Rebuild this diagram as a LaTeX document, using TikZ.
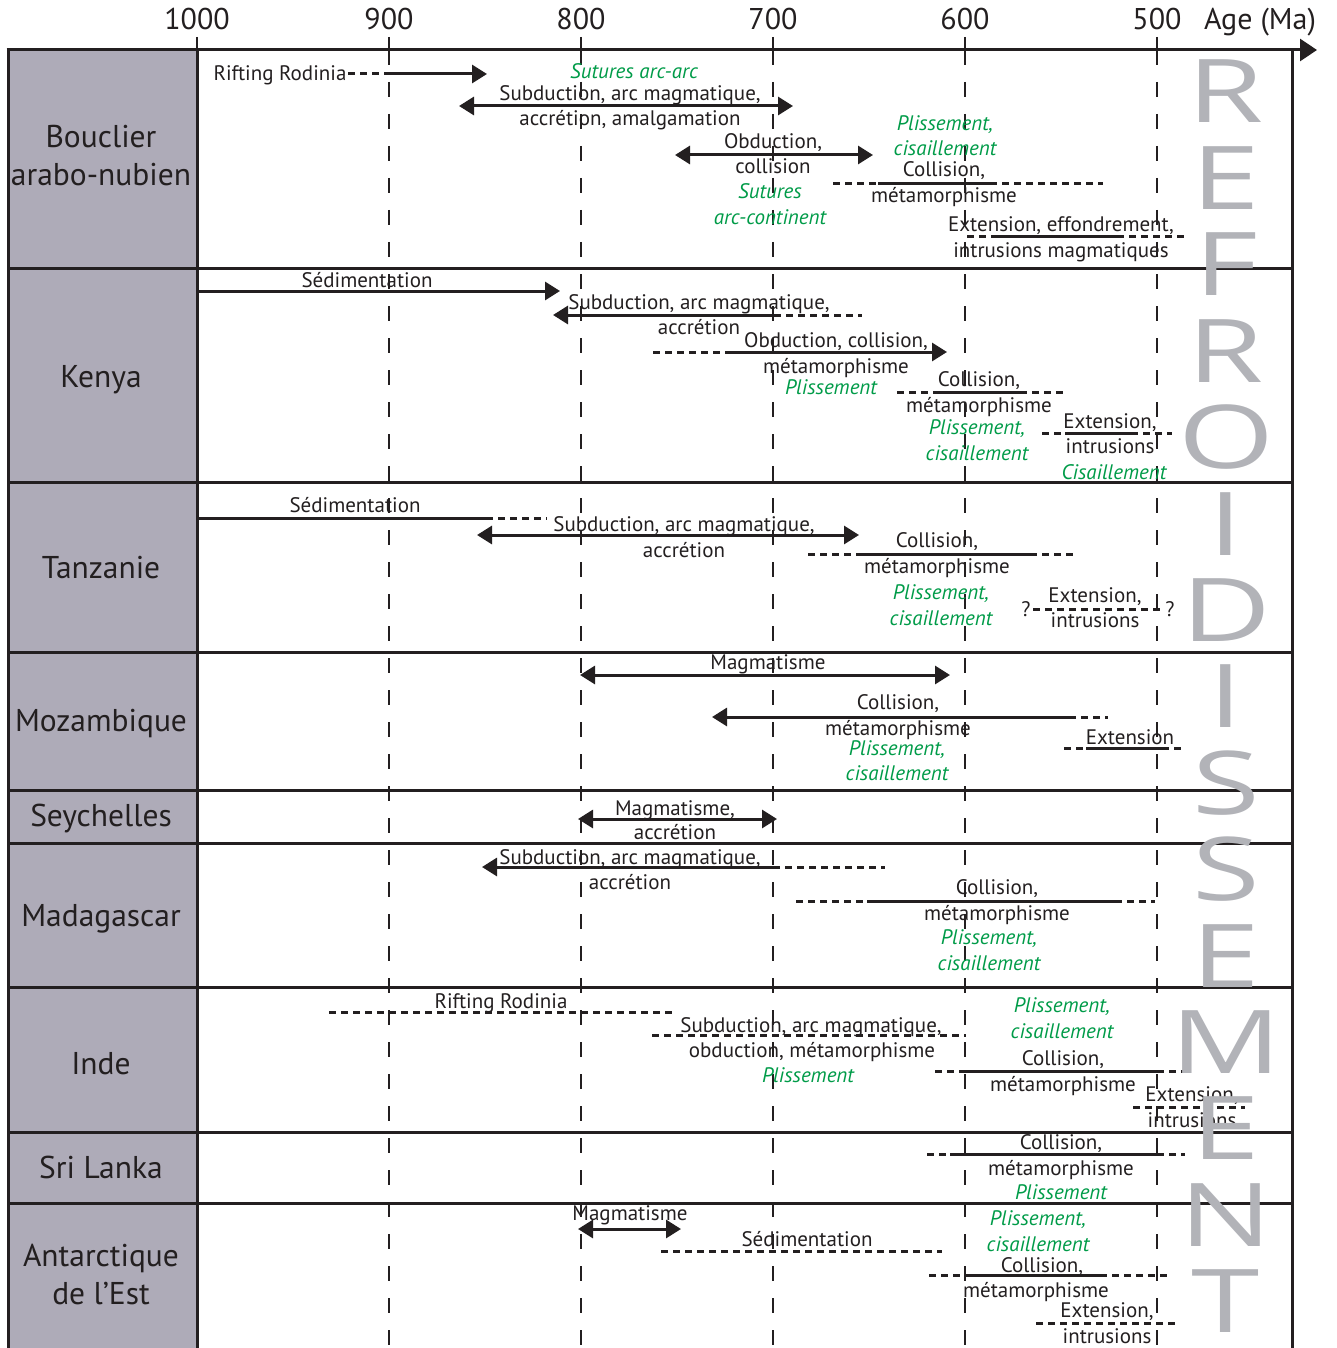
\documentclass[tikz,border=0pt]{standalone}
\usepackage{fontspec}
\setmainfont{PT Sans}
\newfontfamily\bigfont{Open Sans}
\usetikzlibrary{arrows.meta}
\definecolor{ink}{RGB}{35,31,32}
\definecolor{ggreen}{RGB}{0,155,72}
\definecolor{colgray}{RGB}{174,171,184}
\definecolor{biggray}{RGB}{178,179,184}
\begin{document}
\begin{tikzpicture}[x=1pt,y=-1pt,
  evt/.style={anchor=base,inner sep=0pt,text=ink,font=\fontsize{21}{24}\selectfont},
  gtxt/.style={anchor=base,inner sep=0pt,text=ggreen,font=\fontsize{21}{24}\selectfont\itshape},
  lbl/.style={anchor=base,inner sep=0pt,text=ink,font=\fontsize{31.5}{36}\selectfont},
  axl/.style={anchor=base,inner sep=0pt,text=ink,font=\fontsize{30}{34}\selectfont},
  big/.style={anchor=base,inner sep=0pt,text depth=0pt,text=biggray,font=\bigfont\fontsize{88}{88}\selectfont},
  bar/.style={draw=ink,line width=3pt},
  dsh/.style={draw=ink,line width=3pt,dash pattern=on 7pt off 5pt},
  arr/.style={bar,-{Triangle[length=15pt,width=18pt]}},
  darr/.style={bar,{Triangle[length=15pt,width=18pt]}-{Triangle[length=15pt,width=18pt]}},
  grid/.style={draw=ink,line width=1.5pt,dash pattern=on 15pt off 17pt},
  frame/.style={draw=ink,line width=3pt}]
\useasboundingbox (0,0) rectangle (1337,1348);
% left column
\fill[colgray] (8,50) rectangle (197,1348);
% grid
\foreach \gx in {389,581,773,965,1157}{
  \draw[grid] (\gx,50) -- (\gx,1348);
  \draw[draw=ink,line width=2pt] (\gx,37) -- (\gx,50);
}
\draw[draw=ink,line width=2pt] (197,37) -- (197,50);
% frame
\draw[frame] (8,50) -- (8,1348);
\draw[frame] (197,50) -- (197,1348);
\draw[frame] (1292,50) -- (1292,1348);
\foreach \ry in {268,482,652,790,843,987,1132,1203}{
  \draw[frame] (8,\ry) -- (1292,\ry);
}
\draw[frame,-{Triangle[length=17pt,width=22pt]}] (6.5,50) -- (1317,50);
% axis labels
\node[axl] (a1000) at (197,30) {1000};
\node[axl] (a900) at (389,30) {900};
\node[axl] (a800) at (581,30) {800};
\node[axl] (a700) at (773,30) {700};
\node[axl] (a600) at (965,30) {600};
\node[axl] (a500) at (1157,30) {500};
\node[axl] (aage) at (1260,30) {Age (Ma)};
% row labels
\node[lbl] (l1a) at (101,148) {Bouclier};
\node[lbl] (l1b) at (101,186) {arabo-nubien};
\node[lbl] (l2) at (101,387) {Kenya};
\node[lbl] (l3) at (101,578) {Tanzanie};
\node[lbl] (l4) at (101,731) {Mozambique};
\node[lbl] (l5) at (101,826) {Seychelles};
\node[lbl] (l6) at (101,926) {Madagascar};
\node[lbl] (l7) at (101,1074) {Inde};
\node[lbl] (l8) at (101,1178) {Sri Lanka};
\node[lbl] (l9a) at (101,1266) {Antarctique};
\node[lbl] (l9b) at (101,1304) {de l'Est};

% ---- Row 1: Bouclier arabo-nubien
\node[evt] (r1a) at (280,81) {Rifting Rodinia};
\draw[dsh] (348,74) -- (389,74);
\draw[arr] (389,74) -- (487,74);
\node[gtxt] (r1b) at (634,79) {Sutures arc-arc};
\node[evt] (r1c) at (630,101) {Subduction, arc magmatique,};
\draw[darr] (459,106) -- (793,106);
\node[evt] (r1d) at (630,126) {accrétion, amalgamation};
\node[evt] (r1e) at (773,149) {Obduction,};
\draw[darr] (675,155) -- (873,155);
\node[evt] (r1f) at (773,174) {collision};
\node[gtxt] (r1g) at (770,199) {Sutures};
\node[gtxt] (r1h) at (770,225) {arc-continent};
\node[gtxt] (r1i) at (945,131) {Plissement,};
\node[gtxt] (r1j) at (945,156) {cisaillement};
\node[evt] (r1k) at (944,177) {Collision,};
\draw[dsh] (833,184) -- (878,184);
\draw[bar] (878,184) -- (990,184);
\draw[dsh] (990,184) -- (1103,184);
\node[evt] (r1l) at (944,203) {métamorphisme};
\node[evt] (r1m) at (1061,232) {Extension, effondrement,};
\draw[dsh] (967,237) -- (997,237);
\draw[bar] (997,237) -- (1117,237);
\draw[dsh] (1117,237) -- (1188,237);
\node[evt] (r1n) at (1061,258) {intrusions magmatiques};

% ---- Row 2: Kenya
\node[evt] (r2a) at (367,287) {Sédimentation};
\draw[arr] (197,291) -- (560,291);
\node[evt] (r2b) at (699,309) {Subduction, arc magmatique,};
\draw[arr] (774,315) -- (553,315);
\draw[dsh] (774,315) -- (862,315);
\node[evt] (r2c) at (699,334) {accrétion};
\node[evt] (r2d) at (836,347) {Obduction, collision,};
\draw[dsh] (653,352) -- (729,352);
\draw[arr] (729,352) -- (947,352);
\node[evt] (r2e) at (836,373) {métamorphisme};
\node[gtxt] (r2f) at (831,394) {Plissement};
\node[evt] (r2g) at (979,386) {Collision,};
\draw[dsh] (897,392) -- (939,392);
\draw[bar] (939,392) -- (1020,392);
\draw[dsh] (1020,392) -- (1067,392);
\node[evt] (r2h) at (979,412) {métamorphisme};
\node[gtxt] (r2i) at (977,434) {Plissement,};
\node[gtxt] (r2j) at (977,460) {cisaillement};
\node[evt] (r2k) at (1110,428) {Extension,};
\draw[dsh] (1042,433) -- (1065,433);
\draw[bar] (1065,433) -- (1131,433);
\draw[dsh] (1131,433) -- (1172,433);
\node[evt] (r2l) at (1110,453) {intrusions};
\node[gtxt] (r2m) at (1114,479) {Cisaillement};

% ---- Row 3: Tanzanie
\node[evt] (r3a) at (355,512) {Sédimentation};
\draw[bar] (197,518) -- (486,518);
\draw[dsh] (486,518) -- (547,518);
\node[evt] (r3b) at (684,531) {Subduction, arc magmatique,};
\draw[darr] (477,535) -- (859,535);
\node[evt] (r3c) at (684,557) {accrétion};
\node[evt] (r3d) at (937,547) {Collision,};
\draw[dsh] (808,554) -- (862,554);
\draw[bar] (862,554) -- (1030,554);
\draw[dsh] (1030,554) -- (1073,554);
\node[evt] (r3e) at (937,573) {métamorphisme};
\node[gtxt] (r3f) at (941,599) {Plissement,};
\node[gtxt] (r3g) at (941,625) {cisaillement};
\node[evt] (r3h) at (1026,616) {?};
\node[evt] (r3i) at (1170,616) {?};
\draw[dsh] (1033,609) -- (1164,609);
\node[evt] (r3j) at (1095,602) {Extension,};
\node[evt] (r3k) at (1095,627) {intrusions};

% ---- Row 4: Mozambique
\node[evt] (r4a) at (768,669) {Magmatisme};
\draw[darr] (580,675) -- (950,675);
\node[evt] (r4b) at (898,709) {Collision,};
\draw[arr] (1069,717) -- (712,717);
\draw[dsh] (1069,717) -- (1108,717);
\node[evt] (r4c) at (898,735) {métamorphisme};
\node[gtxt] (r4d) at (897,755) {Plissement,};
\node[gtxt] (r4e) at (897,780) {cisaillement};
\node[evt] (r4f) at (1130,744) {Extension};
\draw[dsh] (1064,748) -- (1086,748);
\draw[bar] (1086,748) -- (1162,748);
\draw[dsh] (1162,748) -- (1184,748);

% ---- Row 5: Seychelles
\node[evt] (r5a) at (675,815) {Magmatisme,};
\draw[darr] (578,819) -- (777,819);
\node[evt] (r5b) at (675,839) {accrétion};

% ---- Row 6: Madagascar
\node[evt] (r6a) at (630,864) {Subduction, arc magmatique,};
\draw[arr] (773,867) -- (482,867);
\draw[dsh] (773,867) -- (885,867);
\node[evt] (r6b) at (630,889) {accrétion};
\node[evt] (r6c) at (997,894) {Collision,};
\draw[dsh] (796,901) -- (867,901);
\draw[bar] (867,901) -- (1115,901);
\draw[dsh] (1115,901) -- (1155,901);
\node[evt] (r6d) at (997,920) {métamorphisme};
\node[gtxt] (r6e) at (989,944) {Plissement,};
\node[gtxt] (r6f) at (989,970) {cisaillement};

% ---- Row 7: Inde
\node[evt] (r7a) at (501,1008) {Rifting Rodinia};
\draw[dsh] (329,1012) -- (676,1012);
\node[evt] (r7b) at (811,1032) {Subduction, arc magmatique,};
\draw[dsh] (652,1035) -- (966,1035);
\node[evt] (r7c) at (812,1057) {obduction, métamorphisme};
\node[gtxt] (r7d) at (808,1082) {Plissement};
\node[gtxt] (r7e) at (1062,1012) {Plissement,};
\node[gtxt] (r7f) at (1062,1038) {cisaillement};
\node[evt] (r7g) at (1063,1065) {Collision,};
\draw[dsh] (935,1071) -- (965,1071);
\draw[bar] (965,1071) -- (1157,1071);
\draw[dsh] (1157,1071) -- (1188,1071);
\node[evt] (r7h) at (1063,1091) {métamorphisme};
\node[evt] (r7i) at (1192,1101) {Extension,};
\draw[dsh] (1133,1107) -- (1245,1107);
\node[evt] (r7j) at (1192,1127) {intrusions};

% ---- Row 8: Sri Lanka
\node[evt] (r8a) at (1061,1149) {Collision,};
\draw[dsh] (927,1154) -- (950,1154);
\draw[bar] (950,1154) -- (1157,1154);
\draw[dsh] (1157,1154) -- (1185,1154);
\node[evt] (r8b) at (1061,1175) {métamorphisme};
\node[gtxt] (r8c) at (1061,1199) {Plissement};

% ---- Row 9: Antarctique de l'Est
\node[evt] (r9a) at (630,1220) {Magmatisme};
\draw[darr] (578,1229) -- (681,1229);
\node[evt] (r9b) at (807,1246) {Sédimentation};
\draw[dsh] (661,1251) -- (942,1251);
\node[gtxt] (r9c) at (1038,1225) {Plissement,};
\node[gtxt] (r9d) at (1038,1251) {cisaillement};
\node[evt] (r9e) at (1042,1272) {Collision,};
\draw[dsh] (929,1275) -- (967,1275);
\draw[bar] (967,1275) -- (1100,1275);
\draw[dsh] (1100,1275) -- (1167,1275);
\node[evt] (r9f) at (1036,1297) {métamorphisme};
\node[evt] (r9g) at (1107,1317) {Extension,};
\draw[dsh] (1036,1323) -- (1176,1323);
\node[evt] (r9h) at (1107,1343) {intrusions};

% ---- REFROIDISSEMENT
\foreach \ch [count=\i from 0] in {R,E,F,R,O,I,D,I,S,S,E,M,E,N,T}{
  \node[big] (big\i) at (1226,123+86.4*\i) {\scalebox{1.4}[1]{\ch}};
}
\end{tikzpicture}
\end{document}
